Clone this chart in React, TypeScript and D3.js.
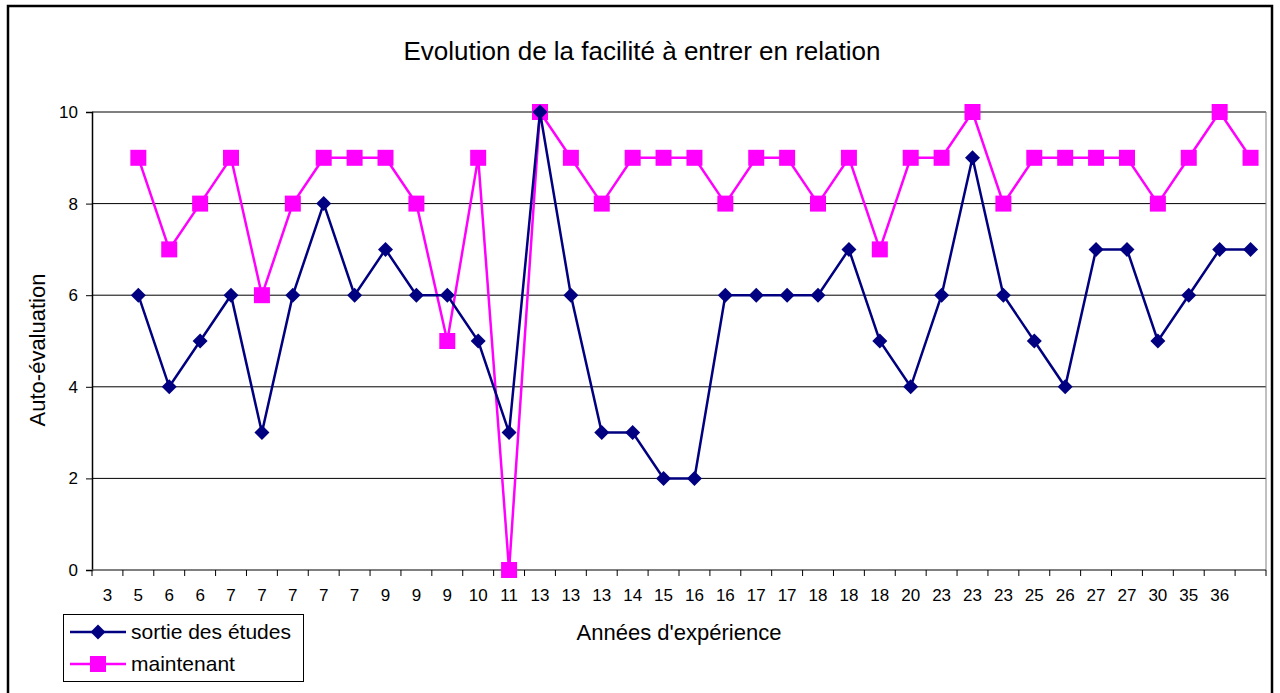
import React, { useEffect, useRef } from "react";
import * as d3 from "d3";

// x categories (last category has no label, first has no data)
const xLabels = [
  "3", "5", "6", "6", "7", "7", "7", "7", "7", "9", "9", "9", "10", "11",
  "13", "13", "13", "14", "15", "16", "16", "17", "17", "18", "18", "18",
  "20", "23", "23", "23", "25", "26", "27", "27", "30", "35", "36", "",
];
const sortieEtudes = [
  null, 6, 4, 5, 6, 3, 6, 8, 6, 7, 6, 6, 5, 3, 10, 6, 3, 3, 2, 2, 6, 6, 6,
  6, 7, 5, 4, 6, 9, 6, 5, 4, 7, 7, 5, 6, 7, 7,
];
const maintenant = [
  null, 9, 7, 8, 9, 6, 8, 9, 9, 9, 8, 5, 9, 0, 10, 9, 8, 9, 9, 9, 8, 9, 9,
  8, 9, 7, 9, 9, 10, 8, 9, 9, 9, 9, 8, 9, 10, 9,
];
const yTicks = [0, 2, 4, 6, 8, 10];

const font = "Arial, 'Liberation Sans', sans-serif";
const navy = "#000080";
const magenta = "#FF00FF";

// diamond = square turned 45 degrees
const diamondPath = (r: number) => `M0,${-r}L${r},0L0,${r}L${-r},0Z`;
const squarePath = (h: number) => `M${-h},${-h}H${h}V${h}H${-h}Z`;

function App() {
  const ref = useRef<SVGSVGElement>(null);
  const width = 1280;
  const height = 693;
  const plot = { left: 92, right: 1266, top: 112, bottom: 570 };

  useEffect(() => {
    const svg = d3.select(ref.current);
    svg.selectAll("*").remove();

    const x = d3
      .scaleBand<number>()
      .domain(d3.range(xLabels.length))
      .range([plot.left, plot.right])
      .padding(0);
    const y = d3.scaleLinear().domain([0, 10]).range([plot.bottom, plot.top]);
    const cx = (i: number) => (x(i) as number) + x.bandwidth() / 2;

    // outer frame
    svg
      .append("rect")
      .attr("x", 8)
      .attr("y", 6)
      .attr("width", 1264)
      .attr("height", 700)
      .attr("fill", "white")
      .attr("stroke", "black")
      .attr("stroke-width", 2.5);

    // title
    svg
      .append("text")
      .text("Evolution de la facilité à entrer en relation")
      .attr("x", 642)
      .attr("y", 60)
      .attr("text-anchor", "middle")
      .attr("font-family", font)
      .attr("font-size", "26px");

    // gridlines
    svg
      .append("g")
      .selectAll("line")
      .data(yTicks.filter((d) => d > 0))
      .enter()
      .append("line")
      .attr("x1", plot.left)
      .attr("x2", plot.right)
      .attr("y1", (d) => y(d))
      .attr("y2", (d) => y(d))
      .attr("stroke", "#000")
      .attr("stroke-width", 1);

    // plot frame right side
    svg
      .append("line")
      .attr("x1", plot.right)
      .attr("x2", plot.right)
      .attr("y1", plot.top)
      .attr("y2", plot.bottom)
      .attr("stroke", "#808080")
      .attr("stroke-width", 1);

    // y axis
    const yAxis = svg
      .append("g")
      .attr("transform", `translate(${plot.left},0)`)
      .call(d3.axisLeft(y).tickValues(yTicks).tickSize(6).tickPadding(8));
    yAxis.select(".domain").attr("stroke", "#000").attr("stroke-width", 1.5);
    yAxis
      .selectAll("text")
      .attr("font-family", font)
      .attr("font-size", "17px")
      .attr("fill", "#000");

    // x axis
    const xAxis = svg
      .append("g")
      .attr("transform", `translate(0,${plot.bottom})`);
    xAxis
      .append("line")
      .attr("x1", plot.left)
      .attr("x2", plot.right)
      .attr("stroke", "#555")
      .attr("stroke-width", 1.5);
    xAxis
      .selectAll("line.tick")
      .data(d3.range(xLabels.length + 1))
      .enter()
      .append("line")
      .attr("class", "tick")
      .attr("x1", (i) => plot.left + i * x.bandwidth())
      .attr("x2", (i) => plot.left + i * x.bandwidth())
      .attr("y1", 0)
      .attr("y2", 6)
      .attr("stroke", "#000");
    xAxis
      .selectAll("text")
      .data(xLabels)
      .enter()
      .append("text")
      .text((d) => d)
      .attr("x", (_, i) => cx(i))
      .attr("y", 31)
      .attr("text-anchor", "middle")
      .attr("font-family", font)
      .attr("font-size", "17px");

    // axis titles
    svg
      .append("text")
      .text("Années d'expérience")
      .attr("x", 679)
      .attr("y", 640)
      .attr("text-anchor", "middle")
      .attr("font-family", font)
      .attr("font-size", "22px");
    svg
      .append("text")
      .text("Auto-évaluation")
      .attr("transform", `translate(45,350) rotate(-90)`)
      .attr("text-anchor", "middle")
      .attr("font-family", font)
      .attr("font-size", "22px");

    const series = [
      { values: maintenant, color: magenta, marker: squarePath(8) },
      { values: sortieEtudes, color: navy, marker: diamondPath(7.5) },
    ];

    series.forEach((s) => {
      const pts = s.values
        .map((v, i) => ({ i, v }))
        .filter((d) => d.v !== null) as { i: number; v: number }[];
      const line = d3
        .line<{ i: number; v: number }>()
        .x((d) => cx(d.i))
        .y((d) => y(d.v));
      svg
        .append("path")
        .attr("d", line(pts))
        .attr("fill", "none")
        .attr("stroke", s.color)
        .attr("stroke-width", 2.5);
      svg
        .append("g")
        .selectAll("path")
        .data(pts)
        .enter()
        .append("path")
        .attr("d", s.marker)
        .attr("transform", (d) => `translate(${cx(d.i)},${y(d.v)})`)
        .attr("fill", s.color);
    });

    // legend
    const legend = svg.append("g");
    legend
      .append("rect")
      .attr("x", 63.5)
      .attr("y", 614.5)
      .attr("width", 240)
      .attr("height", 67)
      .attr("fill", "white")
      .attr("stroke", "#000");
    const legendItems = [
      { label: "sortie des études", color: navy, marker: diamondPath(7.5), y: 632 },
      { label: "maintenant", color: magenta, marker: squarePath(8), y: 664 },
    ];
    legendItems.forEach((d) => {
      legend
        .append("line")
        .attr("x1", 70)
        .attr("x2", 126)
        .attr("y1", d.y)
        .attr("y2", d.y)
        .attr("stroke", d.color)
        .attr("stroke-width", 2.5);
      legend
        .append("path")
        .attr("d", d.marker)
        .attr("transform", `translate(98,${d.y})`)
        .attr("fill", d.color);
      legend
        .append("text")
        .text(d.label)
        .attr("x", 131)
        .attr("y", d.y + 7)
        .attr("font-family", font)
        .attr("font-size", "21px");
    });
  }, []);

  return (
    <svg
      ref={ref}
      width={width}
      height={height}
      style={{ position: "absolute", left: 0, top: 0, background: "white" }}
    />
  );
}

export default App;
